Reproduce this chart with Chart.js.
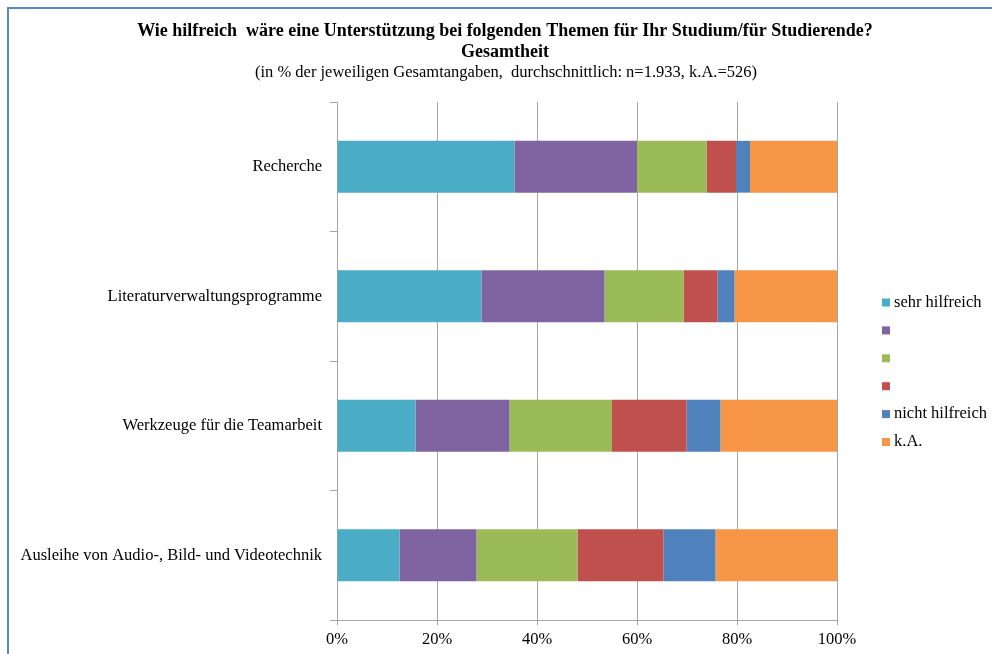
<!DOCTYPE html>
<html><head><meta charset="utf-8">
<script src="https://cdn.jsdelivr.net/npm/chart.js@4.4.1/dist/chart.umd.min.js"></script>
<style>
html,body{margin:0;padding:0;background:#fff;}
#wrap{position:relative;width:992px;height:654px;overflow:hidden;}
#frame{position:absolute;left:7px;top:7px;width:2000px;height:2000px;border-top:2px solid #5b87c6;border-left:2px solid #5b87c6;pointer-events:none;}
canvas{position:absolute;left:0;top:0;}
</style></head><body>
<div id="wrap"><canvas id="c" width="992" height="654"></canvas><div id="frame"></div></div>
<script>
const categories = ['Recherche', 'Literaturverwaltungsprogramme', 'Werkzeuge für die Teamarbeit', 'Ausleihe von Audio-, Bild- und Videotechnik'];
const seriesNames = ['sehr hilfreich', '', '', '', 'nicht hilfreich', 'k.A.'];
const sehrHilfreich = [35.5, 28.9, 15.7, 12.5];
const stufe2 = [24.5, 24.6, 18.8, 15.4];
const stufe3 = [13.9, 15.8, 20.5, 20.2];
const stufe4 = [5.9, 6.8, 14.9, 17.2];
const nichtHilfreich = [2.8, 3.4, 6.8, 10.4];
const kA = [17.4, 20.5, 23.3, 24.3];
const tickLabels = ['0%', '20%', '40%', '60%', '80%', '100%'];
const titleLines = ['Wie hilfreich  wäre eine Unterstützung bei folgenden Themen für Ihr Studium/für Studierende?', 'Gesamtheit'];
const subtitleText = '(in % der jeweiligen Gesamtangaben,  durchschnittlich: n=1.933, k.A.=526)';
const colors = ['#4BACC6', '#8064A2', '#9BBB59', '#C0504D', '#4F81BD', '#F79646'];

const seriesValues = [sehrHilfreich, stufe2, stufe3, stufe4, nichtHilfreich, kA];
const FONT = '"Liberation Serif", "Times New Roman", serif';

const overlay = {
  id: 'overlay',
  afterDraw(chart) {
    const ctx = chart.ctx;
    ctx.save();
    ctx.fillStyle = '#000';
    ctx.textAlign = 'center';
    ctx.textBaseline = 'middle';
    ctx.font = 'bold 18px ' + FONT;
    ctx.fillText(titleLines[0], 505, 31);
    ctx.fillText(titleLines[1], 505, 52);
    ctx.font = '16.5px ' + FONT;
    ctx.fillText(subtitleText, 506, 73);
    // legend
    ctx.textAlign = 'left';
    chart.data.datasets.forEach((ds, i) => {
      const y = 302.5 + i * 27.9;
      ctx.fillStyle = ds.backgroundColor;
      ctx.fillRect(882, y - 4, 8, 8);
      ctx.fillStyle = '#000';
      ctx.font = '16.5px ' + FONT;
      ctx.fillText(ds.label, 894, y);
    });
    ctx.restore();
  }
};

new Chart(document.getElementById('c'), {
  type: 'bar',
  data: {
    labels: categories,
    datasets: seriesValues.map((vals, i) => ({
      label: seriesNames[i],
      data: vals,
      backgroundColor: colors[i],
      borderWidth: 0,
      barPercentage: 0.4,
      categoryPercentage: 1
    }))
  },
  options: {
    indexAxis: 'y',
    responsive: false,
    devicePixelRatio: 1,
    animation: false,
    layout: { padding: { top: 102, right: 155, bottom: 0, left: 0 } },
    plugins: { legend: { display: false }, title: { display: false }, tooltip: { enabled: false } },
    scales: {
      x: {
        stacked: true, min: 0, max: 100,
        afterFit(scale) { scale.height = 34; },
        grid: { color: '#a6a6a6', lineWidth: 1, drawTicks: true, tickLength: 5 },
        border: { color: '#a6a6a6' },
        ticks: {
          stepSize: 20, padding: 5, color: '#000', maxRotation: 0,
          font: { family: FONT, size: 16.5 },
          callback: (v, idx) => tickLabels[idx]
        }
      },
      y: {
        stacked: true,
        afterFit(scale) { scale.width = 337; },
        grid: { drawOnChartArea: false, drawTicks: true, tickLength: 7, offset: true, color: '#a6a6a6' },
        border: { color: '#a6a6a6' },
        ticks: { padding: 8, color: '#000', font: { family: FONT, size: 16.5 } }
      }
    }
  },
  plugins: [overlay]
});
</script>
</body></html>
